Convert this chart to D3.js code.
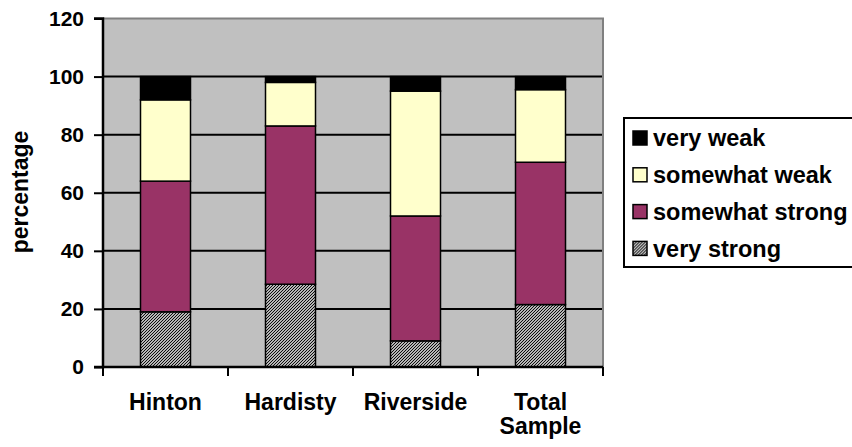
<!DOCTYPE html>
<html>
<head>
<meta charset="utf-8">
<script src="https://cdn.jsdelivr.net/npm/d3@7"></script>
<style>
  html, body { margin: 0; padding: 0; background: #ffffff; }
  svg text { font-family: "Liberation Sans", Arial, sans-serif; font-weight: bold; fill: #000; }
</style>
</head>
<body>
<svg id="chart" width="852" height="447"></svg>
<script>
// Survey sites and response shares (percent)
const categories = ["Hinton", "Hardisty", "Riverside", "Total Sample"];
const seriesNames = ["very strong", "somewhat strong", "somewhat weak", "very weak"];
const veryStrong     = [19, 28.5, 9, 21.5];
const somewhatStrong = [45, 54.5, 43, 49];
const somewhatWeak   = [28, 15, 43, 25];
const veryWeak       = [8, 2, 5, 4.5];
const yTicks = [0, 20, 40, 60, 80, 100, 120];

const seriesValues = [veryStrong, somewhatStrong, somewhatWeak, veryWeak];
const rows = categories.map((c, i) => {
  const r = { category: c };
  seriesNames.forEach((s, k) => { r[s] = seriesValues[k][i]; });
  return r;
});

const svg = d3.select("#chart");
const plot = { left: 103, right: 603, top: 18.5, bottom: 367 };

const x = d3.scaleBand().domain(categories).range([plot.left, plot.right])
  .paddingInner(0.6).paddingOuter(0.3);
const y = d3.scaleLinear().domain([0, 120]).range([plot.bottom, plot.top]);

const fills = {
  "very strong": "url(#hatch)",
  "somewhat strong": "#993366",
  "somewhat weak": "#ffffcc",
  "very weak": "#000000"
};

// Fine diagonal hatch for the "very strong" segments
const defs = svg.append("defs");
const pat = defs.append("pattern").attr("id", "hatch")
  .attr("patternUnits", "userSpaceOnUse").attr("width", 3).attr("height", 3);
pat.append("rect").attr("width", 3).attr("height", 3).attr("fill", "#ffffff");
pat.append("path").attr("d", "M-1,1 L1,-1 M0,3 L3,0 M2,4 L4,2")
  .attr("stroke", "#000").attr("stroke-width", 1.1);

// Plot background
svg.append("rect").attr("x", plot.left).attr("y", plot.top)
  .attr("width", plot.right - plot.left).attr("height", plot.bottom - plot.top)
  .attr("fill", "#c0c0c0");

// Gridlines
svg.append("g").selectAll("line").data(yTicks.filter(t => t > 0 && t < 120)).join("line")
  .attr("x1", plot.left).attr("x2", plot.right)
  .attr("y1", d => y(d)).attr("y2", d => y(d))
  .attr("stroke", "#000").attr("stroke-width", 2);

// Frame: grey top and right edges
svg.append("path")
  .attr("d", `M${plot.left},${y(120)} H${plot.right} V${plot.bottom}`)
  .attr("fill", "none").attr("stroke", "#808080").attr("stroke-width", 2);

// Stacked bars
const stacked = d3.stack().keys(seriesNames)(rows);
svg.append("g").selectAll("g").data(stacked).join("g")
  .attr("fill", d => fills[d.key])
  .selectAll("rect").data(d => d).join("rect")
  .attr("x", d => x(d.data.category))
  .attr("width", x.bandwidth())
  .attr("y", d => y(d[1]))
  .attr("height", d => y(d[0]) - y(d[1]))
  .attr("stroke", "#000").attr("stroke-width", 1.5);

// Y axis
const yAxis = d3.axisLeft(y).tickValues(yTicks).tickSize(9).tickPadding(10);
const gy = svg.append("g").attr("transform", `translate(${plot.left},0)`).call(yAxis);
gy.select(".domain").attr("stroke", "#000").attr("stroke-width", 2.5)
  .attr("d", `M-9,${y(120)}H0V${y(0)}H-9`);
gy.selectAll(".tick line").attr("stroke", "#000").attr("stroke-width", 2);
gy.selectAll(".tick text").attr("font-size", 21).attr("font-family", "Liberation Sans, Arial, sans-serif")
  .attr("font-weight", "bold").attr("fill", "#000");

// X axis baseline and category ticks
const gx = svg.append("g");
gx.append("line").attr("x1", plot.left).attr("x2", plot.right)
  .attr("y1", plot.bottom).attr("y2", plot.bottom)
  .attr("stroke", "#000").attr("stroke-width", 2.5);
const boundaries = categories.map(c => x(c) - x.step() * 0.3).concat([plot.right]);
gx.selectAll("line.tk").data(boundaries).join("line").attr("class", "tk")
  .attr("x1", d => d).attr("x2", d => d)
  .attr("y1", plot.bottom).attr("y2", plot.bottom + 9)
  .attr("stroke", "#000").attr("stroke-width", 2);

// Category labels (wrap "Total Sample")
const labelLines = { "Total Sample": ["Total", "Sample"] };
gx.selectAll("text.cat").data(categories).join("text").attr("class", "cat")
  .attr("text-anchor", "middle").attr("font-size", 23)
  .attr("transform", d => `translate(${x(d) + x.bandwidth() / 2},${410})`)
  .each(function (d) {
    const lines = labelLines[d] || [d];
    d3.select(this).selectAll("tspan").data(lines).join("tspan")
      .attr("x", 0).attr("dy", (l, i) => i === 0 ? 0 : 24).text(l => l);
  });

// Y axis title
svg.append("text").attr("font-size", 23).attr("text-anchor", "middle")
  .attr("transform", `translate(28,192) rotate(-90)`)
  .text("percentage");

// Legend (top entry is the top of the stack)
const legend = svg.append("g");
legend.append("rect").attr("x", 624).attr("y", 118).attr("width", 240).attr("height", 149)
  .attr("fill", "#fff").attr("stroke", "#000").attr("stroke-width", 2);
const legendOrder = seriesNames.slice().reverse();
const li = legend.selectAll("g.item").data(legendOrder).join("g").attr("class", "item")
  .attr("transform", (d, i) => `translate(633,${138 + i * 36.8})`);
li.append("rect").attr("x", 0).attr("y", -7).attr("width", 14).attr("height", 14)
  .attr("fill", d => fills[d]).attr("stroke", "#000").attr("stroke-width", 1.5);
li.append("text").attr("x", 20).attr("y", 0).attr("dy", "0.36em")
  .attr("font-size", 23.5).text(d => d);
</script>
</body>
</html>
